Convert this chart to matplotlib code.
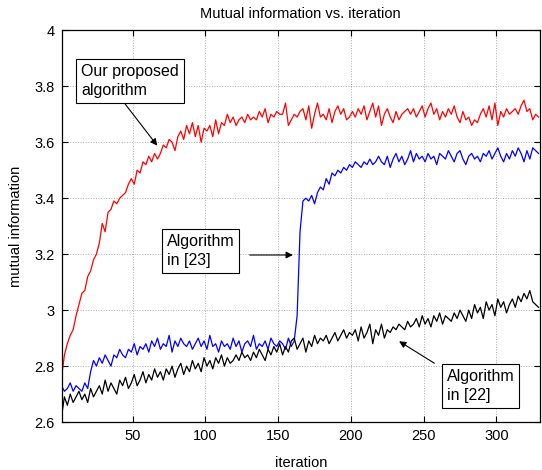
import numpy as np
import matplotlib
matplotlib.use("Agg")
import matplotlib.pyplot as plt
from matplotlib.ticker import FormatStrFormatter

# iteration index (values read every 2nd iteration)
iteration = np.arange(1, 331, 2)

# Our proposed algorithm (red)
proposed = [
    2.76, 2.84, 2.88, 2.91, 2.93, 2.98, 3.02, 3.06, 3.07, 3.12,
    3.14, 3.18, 3.20, 3.24, 3.31, 3.28, 3.35, 3.36, 3.39, 3.38,
    3.40, 3.41, 3.42, 3.45, 3.47, 3.45, 3.50, 3.49, 3.53, 3.52,
    3.55, 3.53, 3.56, 3.54, 3.56, 3.59, 3.58, 3.61, 3.60, 3.57,
    3.62, 3.64, 3.61, 3.66, 3.63, 3.67, 3.62, 3.66, 3.60, 3.65,
    3.64, 3.66, 3.62, 3.68, 3.63, 3.67, 3.66, 3.70, 3.67, 3.69,
    3.66, 3.68, 3.69, 3.67, 3.70, 3.68, 3.69, 3.68, 3.71, 3.69,
    3.72, 3.67, 3.70, 3.69, 3.71, 3.70, 3.70, 3.74, 3.66, 3.68,
    3.70, 3.69, 3.71, 3.72, 3.68, 3.73, 3.65, 3.70, 3.74, 3.69,
    3.70, 3.68, 3.72, 3.67, 3.71, 3.73, 3.70, 3.72, 3.68, 3.69,
    3.71, 3.69, 3.72, 3.70, 3.73, 3.68, 3.71, 3.74, 3.69, 3.73,
    3.66, 3.70, 3.72, 3.69, 3.67, 3.71, 3.68, 3.70, 3.71, 3.72,
    3.70, 3.72, 3.69, 3.71, 3.73, 3.69, 3.72, 3.74, 3.70, 3.72,
    3.68, 3.71, 3.69, 3.72, 3.70, 3.73, 3.69, 3.67, 3.71, 3.68,
    3.69, 3.66, 3.68, 3.67, 3.70, 3.72, 3.69, 3.73, 3.68, 3.74,
    3.66, 3.71, 3.69, 3.72, 3.70, 3.71, 3.72, 3.70, 3.73, 3.75,
    3.71, 3.72, 3.68, 3.70, 3.69,
]

# Algorithm in [23] (blue)
alg23 = [
    2.73, 2.71, 2.72, 2.74, 2.71, 2.73, 2.72, 2.71, 2.74, 2.72,
    2.78, 2.82, 2.80, 2.83, 2.81, 2.84, 2.82, 2.80, 2.84, 2.83,
    2.86, 2.84, 2.83, 2.86, 2.85, 2.88, 2.84, 2.87, 2.86, 2.88,
    2.85, 2.89, 2.87, 2.90, 2.86, 2.88, 2.87, 2.91, 2.85, 2.89,
    2.87, 2.90, 2.88, 2.87, 2.89, 2.86, 2.88, 2.90, 2.87, 2.89,
    2.86, 2.91, 2.87, 2.88, 2.85, 2.89, 2.87, 2.88, 2.86, 2.90,
    2.87, 2.89, 2.85, 2.88, 2.89, 2.87, 2.91, 2.86, 2.88, 2.87,
    2.89, 2.86, 2.90, 2.88, 2.87, 2.89, 2.88, 2.86, 2.90, 2.87,
    2.89, 2.98, 3.28, 3.39, 3.40, 3.39, 3.41, 3.38, 3.42, 3.44,
    3.43, 3.47, 3.45, 3.49, 3.48, 3.50, 3.49, 3.51, 3.50, 3.52,
    3.51, 3.53, 3.52, 3.51, 3.53, 3.52, 3.54, 3.52, 3.53, 3.55,
    3.53, 3.52, 3.55, 3.51, 3.54, 3.56, 3.53, 3.55, 3.52, 3.54,
    3.57, 3.53, 3.56, 3.54, 3.55, 3.53, 3.56, 3.54, 3.55, 3.52,
    3.56, 3.55, 3.54, 3.57, 3.55, 3.53, 3.56, 3.57, 3.54, 3.52,
    3.55, 3.56, 3.54, 3.55, 3.53, 3.56, 3.55, 3.57, 3.54, 3.56,
    3.58, 3.55, 3.53, 3.56, 3.54, 3.57, 3.55, 3.58, 3.56, 3.53,
    3.57, 3.54, 3.58, 3.57, 3.56,
]

# Algorithm in [22] (black)
alg22 = [
    2.62, 2.69, 2.66, 2.70, 2.67, 2.69, 2.71, 2.68, 2.70, 2.67,
    2.72, 2.69, 2.71, 2.73, 2.70, 2.75, 2.71, 2.74, 2.72, 2.70,
    2.75, 2.73, 2.76, 2.72, 2.74, 2.77, 2.73, 2.75, 2.78, 2.74,
    2.77, 2.75, 2.79, 2.76, 2.78, 2.75, 2.79, 2.77, 2.80, 2.76,
    2.79, 2.81, 2.77, 2.80, 2.78, 2.82, 2.79, 2.81, 2.78, 2.83,
    2.80, 2.82, 2.79, 2.83, 2.81, 2.84, 2.80, 2.83, 2.81, 2.82,
    2.84, 2.82, 2.85, 2.83, 2.84, 2.82, 2.85, 2.83, 2.86, 2.84,
    2.82, 2.86, 2.84, 2.87, 2.85, 2.88, 2.84, 2.87, 2.85, 2.89,
    2.90, 2.86, 2.88, 2.90, 2.85, 2.89, 2.87, 2.91, 2.88, 2.90,
    2.89, 2.91, 2.88, 2.90, 2.92, 2.89, 2.91, 2.93, 2.90, 2.92,
    2.91, 2.93, 2.89, 2.94, 2.90, 2.92, 2.95, 2.88, 2.93, 2.91,
    2.95, 2.90, 2.93, 2.92, 2.94, 2.93, 2.95, 2.94, 2.93, 2.96,
    2.94, 2.95, 2.97, 2.94, 2.98, 2.95, 2.97, 2.94, 2.98, 2.96,
    2.99, 2.95, 2.98, 2.97, 2.96, 2.99, 2.97, 3.00, 2.98, 2.96,
    3.00, 2.97, 3.02, 2.99, 3.01, 2.97, 3.03, 3.00, 3.02, 2.98,
    3.04, 3.01, 3.03, 2.99, 3.02, 3.04, 3.01, 3.05, 3.03, 3.06,
    3.04, 3.07, 3.03, 3.02, 3.01,
]

plt.rcParams['font.family'] = ['Liberation Sans', 'DejaVu Sans']

fig = plt.figure(figsize=(5.42, 4.70), dpi=100)
ax = fig.add_axes([0.1135, 0.102, 0.8828, 0.8335])

ax.plot(iteration, proposed, color="red", lw=0.9)
ax.plot(iteration, alg23, color="blue", lw=0.9)
ax.plot(iteration, alg22, color="black", lw=0.9)

ax.set_xlim(1, 330)
ax.set_ylim(2.6, 4.0)
ax.set_xticks([50, 100, 150, 200, 250, 300])
ax.set_yticks([2.6, 2.8, 3.0, 3.2, 3.4, 3.6, 3.8, 4.0])
ax.yaxis.set_major_formatter(FormatStrFormatter('%g'))
ax.tick_params(direction="in", top=True, right=True, labelsize=10.5, length=4, pad=5)
ax.grid(True, linestyle=":", color="#aaaaaa", lw=0.7)
for s in ax.spines.values():
    s.set_linewidth(0.9)

ax.set_title("Mutual information vs. iteration", fontsize=10.5, pad=9)
ax.set_xlabel("iteration", fontsize=10.5, labelpad=9)
ax.set_ylabel("mutual information", fontsize=10.5, labelpad=8)

box = dict(boxstyle="square,pad=0.3", fc="white", ec="black", lw=0.8)
arrow = dict(arrowstyle="-|>", color="black", lw=0.8, mutation_scale=10)

# "Our proposed algorithm" label and arrow
ax.annotate("", xy=(68, 3.58), xytext=(43.5, 3.745), arrowprops=arrow)
ax.text(14.5, 3.82, "Our proposed\nalgorithm", fontsize=11.5, va="center",
        ha="left", bbox=box, linespacing=1.35)

# "Algorithm in [23]"
ax.annotate("", xy=(162, 3.197), xytext=(128.5, 3.197), arrowprops=arrow)
ax.text(73.5, 3.212, "Algorithm\nin [23]", fontsize=11.5, va="center",
        ha="left", bbox=box, linespacing=1.35)

# "Algorithm in [22]"
ax.annotate("", xy=(231.5, 2.894), xytext=(259, 2.805), arrowprops=arrow)
ax.text(266, 2.73, "Algorithm\nin [22]", fontsize=11.5, va="center",
        ha="left", bbox=box, linespacing=1.35)

fig.savefig("out.png", dpi=100)
